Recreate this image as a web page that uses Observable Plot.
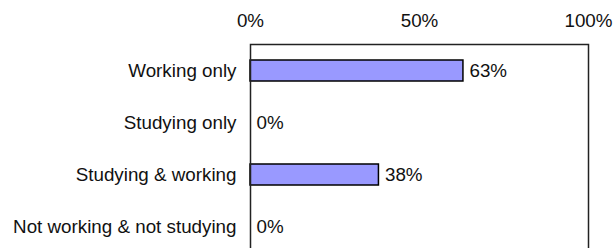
<!DOCTYPE html>
<html>
<head>
<meta charset="utf-8">
<script src="https://cdn.jsdelivr.net/npm/d3@7"></script>
<script src="https://cdn.jsdelivr.net/npm/@observablehq/plot@0.6"></script>
<style>
  html, body { margin: 0; padding: 0; background: #fff; }
</style>
</head>
<body>
<div id="chart"></div>
<script>
const categories = ["Working only", "Studying only", "Studying & working", "Not working & not studying"];
const values = [63, 0, 38, 0];
const xTicks = [0, 50, 100];

const data = categories.map((c, i) => ({category: c, value: values[i]}));

const chart = Plot.plot({
  width: 613,
  height: 248,
  marginLeft: 250,
  marginRight: 25,
  marginTop: 44,
  marginBottom: -4,
  style: {fontSize: "18.8px", fontFamily: "'Liberation Sans', Arial, sans-serif", color: "#111", background: "#fff"},
  x: {domain: [0, 100], axis: "top", ticks: xTicks, tickFormat: d => d + "%", tickSize: 0, tickPadding: 18, label: null},
  y: {domain: categories, paddingInner: 0.6, paddingOuter: 0.3, tickSize: 0, tickPadding: 14, label: null},
  marks: [
    Plot.barX(data, {x: "value", y: "category", fill: "#9999ff", stroke: "#000", strokeWidth: 1.5}),
    Plot.text(data, {x: "value", y: "category", text: d => d.value + "%", textAnchor: "start", dx: 6, fill: "#111"}),
    Plot.frame({stroke: "#222", strokeWidth: 1.5})
  ]
});
document.getElementById("chart").appendChild(chart);
</script>
</body>
</html>
